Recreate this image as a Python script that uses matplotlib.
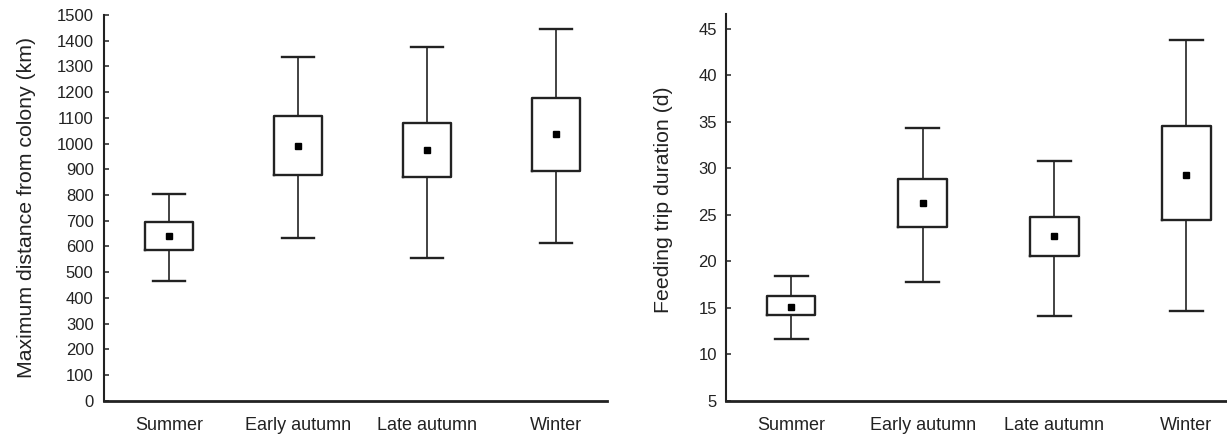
import matplotlib
matplotlib.use("Agg")
import matplotlib.pyplot as plt

plt.rcParams['font.family'] = ['Liberation Sans', 'DejaVu Sans']

seasons = ["Summer", "Early autumn", "Late autumn", "Winter"]

# maximum distance from colony (km)
dist_low = [465, 632, 556, 614]
dist_q1 = [587, 878, 871, 892]
dist_mean = [642, 992, 975, 1036]
dist_q3 = [696, 1108, 1079, 1176]
dist_high = [802, 1338, 1377, 1444]

# feeding trip duration (d)
dur_low = [11.6, 17.8, 14.1, 14.6]
dur_q1 = [14.25, 23.7, 20.6, 24.4]
dur_mean = [15.1, 26.3, 22.7, 29.3]
dur_q3 = [16.3, 28.9, 24.8, 34.5]
dur_high = [18.4, 34.3, 30.8, 43.8]

ink = "#222222"


def make_stats(lo, q1, mean, q3, hi):
    stats = []
    for i in range(len(lo)):
        stats.append({"whislo": lo[i], "q1": q1[i], "med": mean[i],
                      "mean": mean[i], "q3": q3[i], "whishi": hi[i],
                      "fliers": []})
    return stats


def draw_panel(ax, stats):
    ax.bxp(stats, positions=range(len(stats)), widths=0.37, capwidths=0.25,
           showmeans=True, showfliers=False,
           boxprops=dict(color=ink, linewidth=1.7),
           whiskerprops=dict(color=ink, linewidth=1.2),
           capprops=dict(color=ink, linewidth=1.7),
           medianprops=dict(visible=False),
           meanprops=dict(marker="s", markersize=4, markerfacecolor="black",
                          markeredgecolor="black"))
    ax.spines["top"].set_visible(False)
    ax.spines["right"].set_visible(False)
    ax.spines["left"].set_linewidth(1.5)
    ax.spines["bottom"].set_linewidth(2.0)
    ax.spines["left"].set_color(ink)
    ax.spines["bottom"].set_color(ink)
    ax.set_xticks(range(len(seasons)))
    ax.set_xticklabels(seasons, fontsize=13, color=ink)
    ax.tick_params(axis="x", length=0, pad=12)
    ax.tick_params(axis="y", direction="in", length=3.6, width=1.1,
                   colors=ink, labelsize=12)


fig = plt.figure(figsize=(12.27, 4.34), dpi=100)
ax1 = fig.add_axes([0.0848, 0.0767, 0.4099, 0.8887])
ax2 = fig.add_axes([0.5917, 0.0767, 0.4083, 0.891])

draw_panel(ax1, make_stats(dist_low, dist_q1, dist_mean, dist_q3, dist_high))
ax1.set_xlim(-0.504, 3.395)
ax1.set_ylim(0, 1500)
ax1.set_yticks(range(0, 1501, 100))
ax1.tick_params(axis="y", pad=7.5)
ax1.set_ylabel("Maximum distance from colony (km)", fontsize=15.3, color=ink)
ax1.yaxis.set_label_coords(-0.135, 0.5)

draw_panel(ax2, make_stats(dur_low, dur_q1, dur_mean, dur_q3, dur_high))
ax2.set_xlim(-0.494, 3.31)
ax2.set_ylim(5, 46.6)
ax2.set_yticks(range(5, 46, 5))
ax2.tick_params(axis="y", pad=6.5)
ax2.set_ylabel("Feeding trip duration (d)", fontsize=15.3, color=ink)
ax2.yaxis.set_label_coords(-0.106, 0.519)

fig.savefig("out.png", dpi=100)
